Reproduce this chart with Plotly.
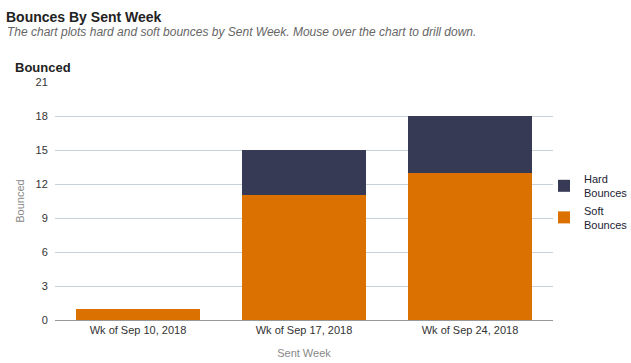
import plotly.graph_objects as go

weeks = ["Wk of Sep 10, 2018", "Wk of Sep 17, 2018", "Wk of Sep 24, 2018"]
soft_bounces = [1, 11, 13]
hard_bounces = [0, 4, 5]
y_ticks = [0, 3, 6, 9, 12, 15, 18, 21]

FONT = "Liberation Sans, Arial, sans-serif"

fig = go.Figure()
fig.add_trace(go.Bar(x=weeks, y=soft_bounces, name="Soft<br>Bounces",
                     marker=dict(color="#DB7100", line=dict(width=0))))
fig.add_trace(go.Bar(x=weeks, y=hard_bounces, name="Hard<br>Bounces",
                     marker=dict(color="#363A54", line=dict(width=0))))

W, H = 631, 363
pl, pr, pt, pb = 55, 78, 82, 43
pw, ph = W - pl - pr, H - pt - pb
def px(xp): return (xp - pl) / pw
def py(yp): return (H - pb - yp) / ph

fig.update_layout(
    width=W, height=H,
    barmode="stack", bargap=0.25,
    paper_bgcolor="white", plot_bgcolor="white",
    margin=dict(l=pl, r=pr, t=pt, b=pb, autoexpand=False),
    font=dict(family=FONT, size=11, color="#333333"),
    legend=dict(x=px(544), xanchor="left", y=py(202), yanchor="middle",
                traceorder="reversed", font=dict(size=11, color="#222233"),
                itemwidth=30, tracegroupgap=0, bgcolor="rgba(0,0,0,0)"),
    showlegend=True,
)
fig.update_xaxes(showgrid=False, showline=True, linecolor="#999999", linewidth=1,
                 automargin=False,
                 ticks="", tickfont=dict(size=11, color="#333333"),
                 title=dict(text="Sent Week", font=dict(size=11, color="#888888"), standoff=14))
fig.update_yaxes(range=[0, 21], tickvals=y_ticks, showgrid=True, gridcolor="#C8D0D8",
                 automargin=False,
                 zeroline=False, showline=False, ticks="outside", ticklen=4,
                 tickcolor="rgba(0,0,0,0)", tickfont=dict(size=11, color="#333333"),
                 title=dict(text="Bounced", font=dict(size=11, color="#888888"), standoff=8))

fig.add_annotation(text="<b>Bounces By Sent Week</b>", xref="paper", yref="paper",
                   x=px(4), xanchor="left", y=py(17), yanchor="middle", showarrow=False,
                   font=dict(size=14, color="#222222", family=FONT))
fig.add_annotation(text="<i>The chart plots hard and soft bounces by Sent Week. Mouse over the chart to drill down.</i>",
                   xref="paper", yref="paper", x=px(5), xanchor="left", y=py(32), yanchor="middle",
                   showarrow=False, font=dict(size=12, color="#666666", family=FONT))
fig.add_annotation(text="<b>Bounced</b>", xref="paper", yref="paper", x=px(13), xanchor="left",
                   y=py(67), yanchor="middle",
                   showarrow=False, font=dict(size=13, color="#222222", family=FONT))

fig.write_html("out.html", config={"displayModeBar": False},
               post_script="document.body.style.margin='0px';document.body.style.padding='0px';")
